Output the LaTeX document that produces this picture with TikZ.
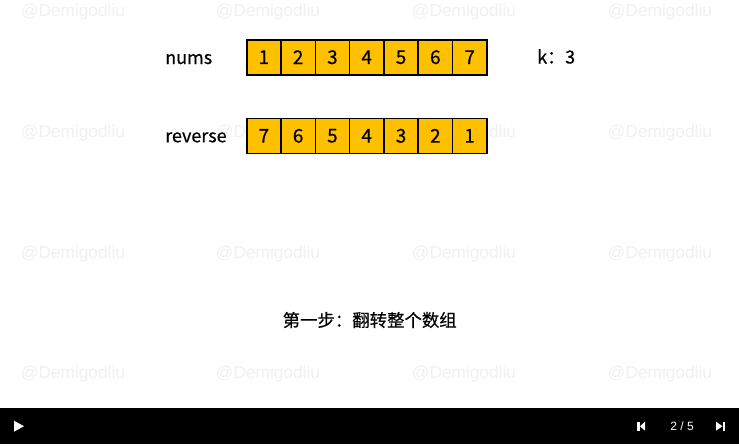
\documentclass[tikz,border=0pt]{standalone}
\usepackage{fontspec}
\setmainfont{Noto Sans CJK SC}[FakeBold=0.5]
\newfontfamily\markfont{Liberation Sans}
\usetikzlibrary{positioning}
\definecolor{cellyellow}{RGB}{255,192,0}
\definecolor{markgray}{RGB}{240,240,240}

\begin{document}
\begin{tikzpicture}[x=1pt, y=-1pt, node distance=0pt]
    \tikzstyle{cell} = [rectangle, draw, line width=1.6pt, fill=cellyellow, minimum width=34.3pt, minimum height=35pt, inner sep=0pt, outer sep=0pt, font=\fontsize{19}{21}\selectfont]
    \tikzstyle{rowlabel} = [anchor=base west, inner sep=0pt, font=\fontsize{18}{20}\selectfont]
    \tikzstyle{wmark} = [text=markgray, inner sep=0pt, font=\markfont\fontsize{17.3}{19}\selectfont]
    \tikzstyle{caption} = [inner sep=0pt, font=\fontsize{17.4}{20}\selectfont]

    \useasboundingbox (0,0) rectangle (739,447);

    % watermarks
    \foreach \y in {12,133,254,374}
        \foreach \x in {73,268,464,660}
            \node [wmark] (wm-\x-\y) at (\x,\y) {@Demigodliu};

    % nums
    \node [cell] (n1) at (263.85,57.2) {1};
    \foreach \i [remember=\i as \p (initially 1)] in {2,...,7}
        \node [cell, right=of n\p] (n\i) {\i};

    % reverse
    \node [cell] (r1) at (263.85,135.8) {7};
    \foreach \i [remember=\i as \p (initially 1)] in {2,...,7} {
        \pgfmathtruncatemacro\v{8-\i}
        \node [cell, right=of r\p] (r\i) {\v};
    }

    \node [rowlabel] (nums) at (165,64) {nums};
    \node [rowlabel] (reverse) at (165,142.3) {reverse};
    \node [rowlabel] (k) at (537,63.5) {k：3};

    \node [caption] (step) at (369.7,320) {第一步：翻转整个数组};

    % player bar
    \fill (0,408) rectangle (739,444);
    \fill [white] (14,420.7) -- (14,431.7) -- (24,426.2) -- cycle;
    \fill [white] (637.3,421.7) rectangle (639.5,430.7);
    \fill [white] (645,421.7) -- (645,430.7) -- (640,426.2) -- cycle;
    \fill [white] (716,421.7) -- (716,430.7) -- (722.5,426.2) -- cycle;
    \fill [white] (723.2,421.7) rectangle (725.4,430.7);
    \node [text=white, inner sep=0pt, font=\markfont\fontsize{12}{14}\selectfont] (page) at (682,426) {2 / 5};
\end{tikzpicture}
\end{document}
